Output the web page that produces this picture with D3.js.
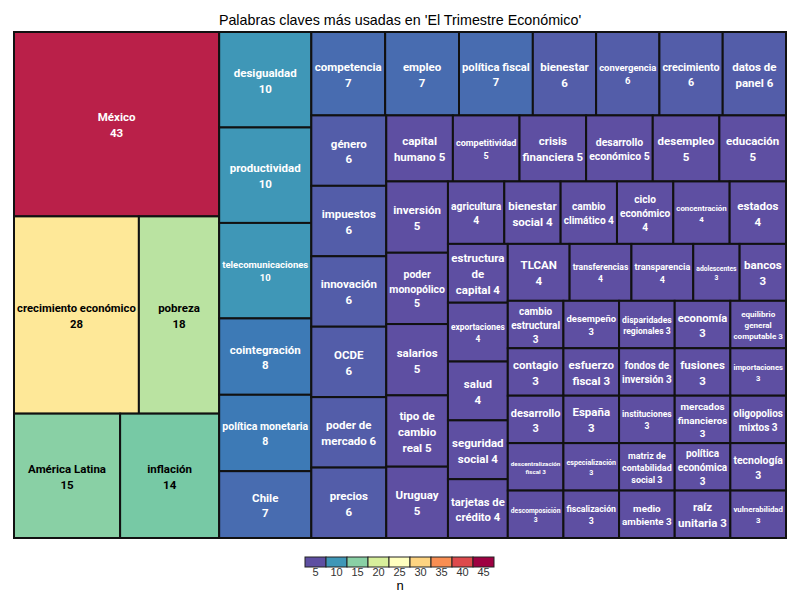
<!DOCTYPE html>
<html><head><meta charset="utf-8">
<script src="https://cdn.jsdelivr.net/npm/d3@7"></script>
<style>body{margin:0;background:#fff}</style>
</head><body><svg id="chart" width="800" height="600"></svg>
<script>
const title = "Palabras claves más usadas en 'El Trimestre Económico'";
const terms = ["México","crecimiento económico","pobreza","América Latina","inflación",
"desigualdad","productividad","telecomunicaciones","cointegración","política monetaria","Chile",
"competencia","empleo","política fiscal","bienestar","convergencia","crecimiento","datos de panel",
"género","impuestos","innovación","OCDE","poder de mercado","precios",
"capital humano","competitividad","crisis financiera","desarrollo económico","desempleo","educación",
"inversión","poder monopólico","salarios","tipo de cambio real","Uruguay",
"agricultura","bienestar social","cambio climático","ciclo económico","concentración","estados",
"estructura de capital","exportaciones","salud","seguridad social","tarjetas de crédito",
"TLCAN","transferencias","transparencia","adolescentes","bancos",
"cambio estructural","desempeño","disparidades regionales","economía","equilibrio general computable",
"contagio","esfuerzo fiscal","fondos de inversión","fusiones","importaciones",
"desarrollo","España","instituciones","mercados financieros","oligopolios mixtos",
"descentralización fiscal","especialización","matriz de contabilidad social","política económica","tecnología",
"descomposición","fiscalización","medio ambiente","raíz unitaria","vulnerabilidad"];
const counts = [43,28,18,15,14,
10,10,10,8,8,7,
7,7,7,6,6,6,6,
6,6,6,6,6,6,
5,5,5,5,5,5,
5,5,5,5,5,
4,4,4,4,4,4,
4,4,4,4,4,
4,4,4,3,3,
3,3,3,3,3,
3,3,3,3,3,
3,3,3,3,3,
3,3,3,3,3,
3,3,3,3,3];
// label line breaks ("|" = new line, "#" = count)
const labelTemplates = ["México|#","crecimiento económico|#","pobreza|#","América Latina|#","inflación|#",
"desigualdad|#","productividad|#","telecomunicaciones|#","cointegración|#","política monetaria|#","Chile|#",
"competencia|#","empleo|#","política fiscal|#","bienestar|#","convergencia|#","crecimiento|#","datos de|panel #",
"género|#","impuestos|#","innovación|#","OCDE|#","poder de|mercado #","precios|#",
"capital|humano #","competitividad|#","crisis|financiera #","desarrollo|económico #","desempleo|#","educación|#",
"inversión|#","poder|monopólico|#","salarios|#","tipo de|cambio|real #","Uruguay|#",
"agricultura|#","bienestar|social #","cambio|climático #","ciclo|económico|#","concentración|#","estados|#",
"estructura|de|capital #","exportaciones|#","salud|#","seguridad|social #","tarjetas de|crédito #",
"TLCAN|#","transferencias|#","transparencia|#","adolescentes|#","bancos|#",
"cambio|estructural|#","desempeño|#","disparidades|regionales #","economía|#","equilibrio|general|computable #",
"contagio|#","esfuerzo|fiscal #","fondos de|inversión #","fusiones|#","importaciones|#",
"desarrollo|#","España|#","instituciones|#","mercados|financieros|#","oligopolios|mixtos #",
"descentralización|fiscal #","especialización|#","matriz de|contabilidad|social #","política|económica|#","tecnología|#",
"descomposición|#","fiscalización|#","medio|ambiente #","raíz|unitaria #","vulnerabilidad|#"];
// treemap strip structure (order of squarified strips)
const stripSides = ["left","left","top","left","top","left","top","left","top","rest"];
const stripLines = [[1,2,2],[1,1,1,1,1,1],[7],[1,1,1,1,1,1],[6],[1,1,1,1,1],[6],[1,1,1,1,1],[5],[5,5,5,5,5]];
const spectral = ["#5E4FA2","#3288BD","#66C2A5","#ABDDA4","#E6F598","#FFFFBF","#FEE08B","#FDAE61","#F46D43","#D53E4F","#9E0142"];
const colorStops = [5,9,13,17,21,25,29,33,37,41,45];
const legendTicks = [5,10,15,20,25,30,35,40,45];

const svg = d3.select("#chart");
const X0 = 14, Y0 = 32, X1 = 786, Y1 = 538;
const color = d3.scaleLinear().domain(colorStops).range(spectral).interpolate(d3.interpolateRgb).clamp(true);

let idx = 0;
const strips = stripLines.map(lines => ({dir:"y", children: lines.map(k => ({dir:"x",
  children: d3.range(k).map(() => { const i = idx++; return {name: terms[i], value: counts[i], tpl: labelTemplates[i]}; })}))}));
function nest(s) {
  if (s === strips.length - 1) return strips[s];
  return {dir: stripSides[s] === "left" ? "x" : "y", children: [strips[s], nest(s + 1)]};
}
const root = d3.hierarchy(nest(0)).sum(d => d.value || 0);
d3.treemap().size([X1 - X0, Y1 - Y0]).paddingInner(0)
  .tile((node, x0, y0, x1, y1) => (node.data.dir === "x" ? d3.treemapDice : d3.treemapSlice)(node, x0, y0, x1, y1))(root);

const g = svg.append("g").attr("transform", `translate(${X0},${Y0})`);
const leaves = root.leaves();
g.selectAll("rect").data(leaves).join("rect")
  .attr("x", d => d.x0).attr("y", d => d.y0)
  .attr("width", d => d.x1 - d.x0).attr("height", d => d.y1 - d.y0)
  .attr("fill", d => color(d.data.value))
  .attr("stroke", "#111").attr("stroke-width", 2);

const FONT = "Roboto, 'Liberation Sans', sans-serif";
const BASE = 11.5, LH = 1.38, PAD = 3;
const ctx = document.createElement("canvas").getContext("2d");
function textW(s, size) { ctx.font = `bold ${size}px ${FONT}`; return ctx.measureText(s).width; }

leaves.forEach(d => {
  const lines = d.data.tpl.split("|").map(s => s.replace("#", d.data.value));
  const w = d.x1 - d.x0 - 2 * PAD, h = d.y1 - d.y0 - 2 * PAD;
  const maxW = d3.max(lines, s => textW(s, BASE));
  let size = Math.min(BASE, BASE * w / maxW, h / (lines.length * LH));
  const L = size * LH;
  const cx = (d.x0 + d.x1) / 2, cy = (d.y0 + d.y1) / 2 + 0.8;
  const c = d3.rgb(color(d.data.value));
  const lum = (0.299 * c.r + 0.587 * c.g + 0.114 * c.b) / 255;
  const t = g.append("text").attr("text-anchor", "middle")
    .attr("font-family", FONT).attr("font-weight", "bold").attr("font-size", size)
    .attr("fill", lum > 0.6 ? "#000" : "#fff");
  lines.forEach((s, i) => {
    t.append("tspan").attr("x", cx).attr("y", cy + (i - (lines.length - 1) / 2) * L + size * 0.36).text(s);
  });
});

svg.append("text").attr("x", 400).attr("y", 25).attr("text-anchor", "middle")
  .attr("font-family", "'Liberation Sans', Arial, sans-serif").attr("font-size", 14.3).attr("fill", "#000").text(title);

// legend
const lx = d3.scaleBand().domain(legendTicks).range([305, 494]).paddingInner(0);
const lg = svg.append("g");
lg.selectAll("rect").data(legendTicks).join("rect")
  .attr("x", d => lx(d)).attr("y", 557).attr("width", lx.bandwidth()).attr("height", 10)
  .attr("fill", d => color(d)).attr("stroke", "#222").attr("stroke-width", 1);
lg.selectAll("text.tick").data(legendTicks).join("text").attr("class", "tick")
  .attr("x", d => lx(d) + lx.bandwidth() / 2).attr("y", 576).attr("text-anchor", "middle")
  .attr("font-family", "'Liberation Sans', Arial, sans-serif").attr("font-size", 11).attr("fill", "#333").text(d => d);
lg.append("text").attr("x", 400).attr("y", 590).attr("text-anchor", "middle")
  .attr("font-family", "'Liberation Sans', Arial, sans-serif").attr("font-size", 13).attr("fill", "#000").text("n");
</script></body></html>
